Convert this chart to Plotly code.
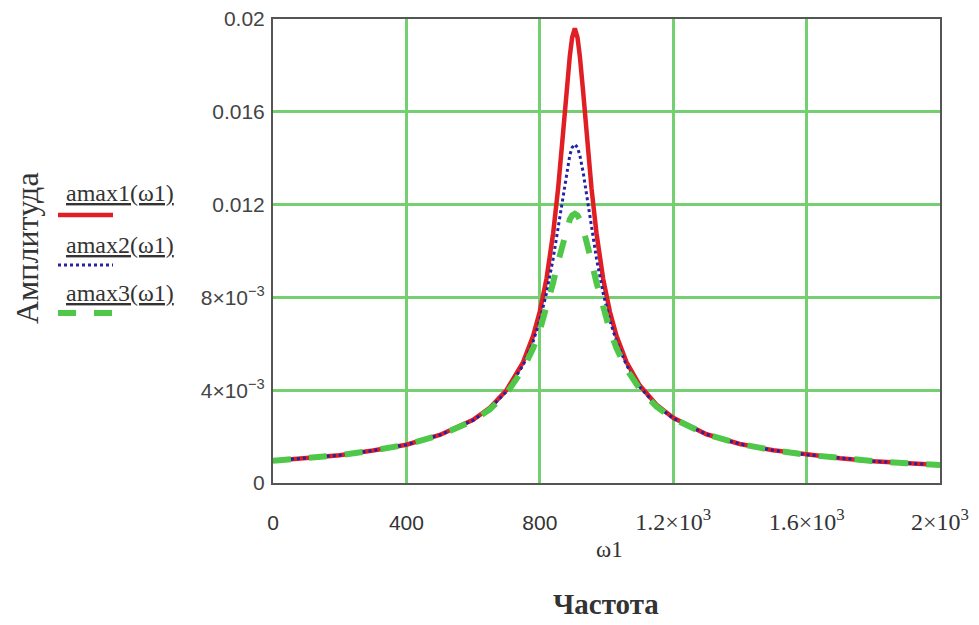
import plotly.graph_objects as go

# ---- data ----
omega = [0, 100, 200, 300, 400, 500, 600, 650, 700, 750, 780, 800, 820, 840, 855,
         870, 880, 890, 897, 905, 913, 920, 930, 940, 955, 970, 990, 1010, 1030,
         1060, 1100, 1150, 1200, 1300, 1400, 1500, 1600, 1700, 1800, 1900, 2000]

amax1 = [0.00096, 0.00107, 0.00120, 0.00140, 0.00165, 0.00207, 0.00272, 0.00324,
         0.00400, 0.00521, 0.00634, 0.00739, 0.00880, 0.01076, 0.01271, 0.01513,
         0.01686, 0.01841, 0.01920, 0.01960, 0.01920, 0.01841, 0.01686, 0.01513,
         0.01271, 0.01076, 0.00880, 0.00739, 0.00634, 0.00521, 0.00420, 0.00337,
         0.00281, 0.00210, 0.00168, 0.00141, 0.00122, 0.00107, 0.00094, 0.00085,
         0.00078]

amax2 = [0.00096, 0.00107, 0.00120, 0.00140, 0.00165, 0.00207, 0.00270, 0.00321,
         0.00394, 0.00508, 0.00610, 0.00701, 0.00818, 0.00967, 0.01102, 0.01247,
         0.01339, 0.01413, 0.01446, 0.01460, 0.01446, 0.01413, 0.01339, 0.01247,
         0.01102, 0.00967, 0.00818, 0.00701, 0.00610, 0.00508, 0.00413, 0.00334,
         0.00279, 0.00210, 0.00168, 0.00141, 0.00122, 0.00107, 0.00094, 0.00085,
         0.00078]

amax3 = [0.00096, 0.00107, 0.00120, 0.00140, 0.00165, 0.00206, 0.00268, 0.00317,
         0.00386, 0.00491, 0.00581, 0.00658, 0.00752, 0.00863, 0.00955, 0.01044,
         0.01096, 0.01136, 0.01153, 0.01160, 0.01153, 0.01136, 0.01096, 0.01044,
         0.00955, 0.00863, 0.00752, 0.00658, 0.00581, 0.00491, 0.00404, 0.00329,
         0.00277, 0.00209, 0.00168, 0.00141, 0.00122, 0.00107, 0.00094, 0.00085,
         0.00078]

x_ticks = [0, 400, 800, 1200, 1600, 2000]
SANS = "font-family:'Liberation Sans', Arial, sans-serif; font-size:21px"
x_ticktext = [f"<span style=\"{SANS}\">0</span>",
              f"<span style=\"{SANS}\">400</span>",
              f"<span style=\"{SANS}\">800</span>",
              "1.2×10<sup>3</sup>", "1.6×10<sup>3</sup>", "2×10<sup>3</sup>"]
y_ticks = [0, 0.004, 0.008, 0.012, 0.016, 0.02]
y_ticktext = ["0", "4×10<sup>−3</sup>", "8×10<sup>−3</sup>", "0.012", "0.016", "0.02"]

series_names = ["amax1(ω1)", "amax2(ω1)", "amax3(ω1)"]
RED = "#e01e24"
BLUE = "#2323a8"
GREEN = "#4fc84a"
GRID = "#74cf70"

OFF = 8  # page body margin
W, H = 979 - OFF, 625 - OFF
L, R, T, B = 273 - OFF, 39, 19 - OFF, 142
PW, PH = W - L - R, H - T - B


def px(xp):
    return (xp - OFF - L) / PW


def py(yp):
    return (H - B - (yp - OFF)) / PH


fig = go.Figure()
fig.add_trace(go.Scatter(x=omega, y=amax1, mode="lines", name=series_names[0],
                         line=dict(color=RED, width=4.5)))
fig.add_trace(go.Scatter(x=omega, y=amax2, mode="lines", name=series_names[1],
                         line=dict(color=BLUE, width=3, dash="dot")))
fig.add_trace(go.Scatter(x=omega, y=amax3, mode="lines", name=series_names[2],
                         line=dict(color=GREEN, width=6, dash="dash")))

SERIF = "Liberation Serif, Times New Roman, serif"

fig.update_layout(
    width=W, height=H,
    margin=dict(l=L, r=R, t=T, b=B, autoexpand=False),
    paper_bgcolor="white", plot_bgcolor="white",
    showlegend=False,
    font=dict(family=SERIF, color="#333"),
    xaxis=dict(range=[0, 2000], tickvals=x_ticks, ticktext=x_ticktext,
               showgrid=True, gridcolor=GRID, gridwidth=2.5,
               zeroline=False, showline=True, linecolor="#555", linewidth=2,
               mirror=True, ticks="", ticklabelstandoff=16, ticklabeloverflow="allow",
               tickfont=dict(family=SERIF, size=24, color="#333")),
    yaxis=dict(range=[0, 0.02], tickvals=y_ticks, ticktext=y_ticktext,
               showgrid=True, gridcolor=GRID, gridwidth=2.5,
               zeroline=False, showline=True, linecolor="#555", linewidth=2,
               mirror=True, ticks="", ticklabelstandoff=2, ticklabeloverflow="allow",
               tickfont=dict(family="Liberation Sans, Arial, sans-serif", size=21, color="#444")),
)

annotations = [
    dict(text="ω1", x=px(609), y=py(549), font=dict(size=23, family=SERIF, color="#333")),
    dict(text="<b>Частота</b>", x=px(606), y=py(604), font=dict(size=29, family=SERIF, color="#333")),
    dict(text="Амплитуда", x=px(27), y=py(248), textangle=-90,
         font=dict(size=32, family=SERIF, color="#333")),
]
legend_rows = [(193, 215, RED, "solid", 4.5), (245, 265, BLUE, "dot", 3), (293, 313, GREEN, "dash", 6)]
shapes = []
for name, (ty, ly, col, dash, w) in zip(series_names, legend_rows):
    annotations.append(dict(text=f"<u>{name}</u>", x=px(64), y=py(ty), xanchor="left",
                            font=dict(size=24, family=SERIF, color="#333")))
    shapes.append(dict(type="line", xref="paper", yref="paper", x0=px(58), x1=px(113),
                       y0=py(ly), y1=py(ly), line=dict(color=col, width=w, dash=dash)))

for a in annotations:
    a.setdefault("xref", "paper")
    a.setdefault("yref", "paper")
    a.setdefault("showarrow", False)
    a.setdefault("xanchor", "center")
    a.setdefault("yanchor", "middle")

fig.update_layout(annotations=annotations, shapes=shapes)
fig.write_html("out.html")
